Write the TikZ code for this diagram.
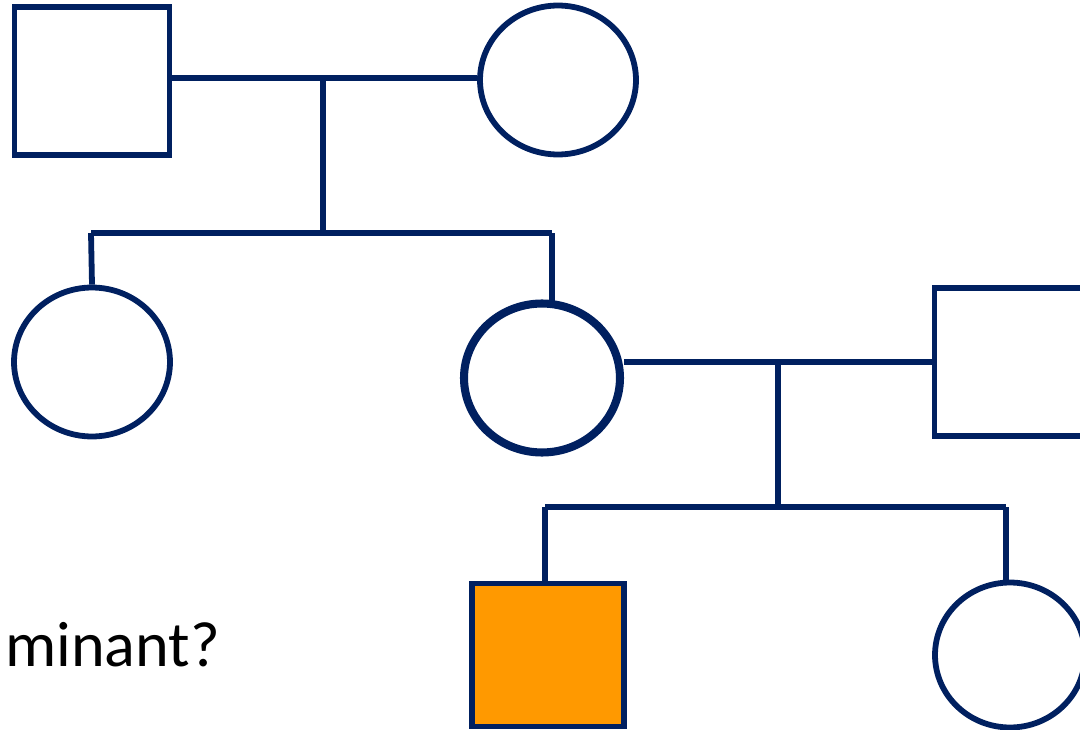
\documentclass[tikz,border=0pt]{standalone}
\usepackage{fontspec}
\setmainfont{Carlito}
\usepackage{tikz}
\usetikzlibrary{shapes, positioning, calc, shapes.geometric}
\usepackage{xcolor}
\definecolor{pednavy}{RGB}{0,32,96}
\definecolor{pedorange}{RGB}{255,153,0}

\begin{document}
\begin{tikzpicture}[x=0.02cm, y=-0.02cm,
        male/.style={draw=pednavy, line width=3.3pt, rectangle, inner sep=0pt, minimum width=3.1cm, minimum height=2.96cm},
        female/.style={draw=pednavy, line width=3.3pt, ellipse, inner sep=0pt, minimum width=3.12cm, minimum height=2.98cm},
        link/.style={draw=pednavy, line width=3.3pt}]
        \clip (0,0) rectangle (1080,730);
        \useasboundingbox (0,0) rectangle (1080,730);

        % first generation
        \node[male] (gf) at (92,81) {};
        \node[female] (gm) at (558,80) {};

        % second generation
        \node[female] (aunt) at (92,362) {};
        \node[female, line width=4.6pt] (mom) at (542,378) {};
        \node[male] (dad) at (1012,362) {};

        % third generation
        \node[male, fill=pedorange, minimum width=3.04cm, minimum height=2.86cm] (son) at (548,655) {};
        \node[female, minimum width=3cm, minimum height=2.9cm] (girl) at (1010,655) {};

        \node[anchor=base west, inner sep=0pt, font=\fontsize{36.5}{42}\selectfont] (question) at (5,666) {minant?};

        % couples and children
        \coordinate (mid1) at (323,78);
        \coordinate (sibl1) at (91,233);
        \coordinate (sibr1) at (552,233);
        \draw[link] (gf.east) ++(-5,-3) -- (gm.west |- mid1);
        \draw[link] (mid1) -- (mid1 |- sibl1);
        \draw[link] (sibl1) -- (sibr1);
        \draw[link] (sibl1) -- (aunt.north);
        \draw[link] (sibr1) -- ($(sibr1 |- mom.north)+(0,2)$);

        \coordinate (mid2) at (778,362);
        \coordinate (sibl2) at (545,507);
        \coordinate (sibr2) at (1006,507);
        \draw[link] (mom.east |- mid2) -- (dad.west |- mid2);
        \draw[link] (mid2) -- (mid2 |- sibl2);
        \draw[link] (sibl2) -- (sibr2);
        \draw[link] (sibl2) -- (sibl2 |- son.north);
        \draw[link] (sibr2) -- (girl.north -| sibr2);
    \end{tikzpicture}
\end{document}
